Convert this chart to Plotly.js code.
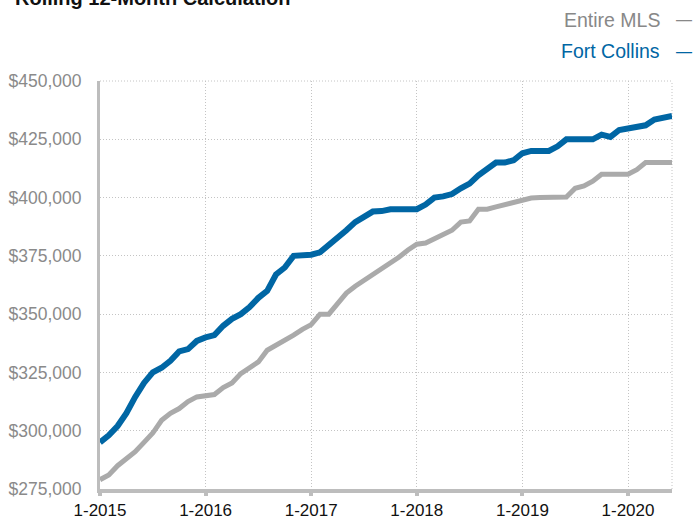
<!DOCTYPE html>
<html>
<head>
<meta charset="utf-8">
<script src="https://cdn.plot.ly/plotly-3.0.1.min.js"></script>
<style>
  html, body { margin: 0; padding: 0; background: #fff; }
  #chart { width: 694px; height: 519px; }
</style>
</head>
<body>
<div id="chart"></div>
<script>
// Month categories (Jan 2015 – Jun 2020)
const months = [
  "1-2015","2-2015","3-2015","4-2015","5-2015","6-2015","7-2015","8-2015","9-2015","10-2015","11-2015","12-2015",
  "1-2016","2-2016","3-2016","4-2016","5-2016","6-2016","7-2016","8-2016","9-2016","10-2016","11-2016","12-2016",
  "1-2017","2-2017","3-2017","4-2017","5-2017","6-2017","7-2017","8-2017","9-2017","10-2017","11-2017","12-2017",
  "1-2018","2-2018","3-2018","4-2018","5-2018","6-2018","7-2018","8-2018","9-2018","10-2018","11-2018","12-2018",
  "1-2019","2-2019","3-2019","4-2019","5-2019","6-2019","7-2019","8-2019","9-2019","10-2019","11-2019","12-2019",
  "1-2020","2-2020","3-2020","4-2020","5-2020","6-2020"
];

// Rolling 12-month values
const entireMLS = [
  279000, 281000, 285000, 288000, 291000, 295000, 299000, 304500, 307500, 309500, 312500, 314500,
  315000, 315500, 318500, 320500, 324500, 327000, 329500, 334500, 336500, 339000, 341000, 343500,
  345500, 350000, 350000, 354500, 359000, 362000, 364500, 367000, 369500, 371500, 374500, 377500,
  380000, 380500, 382500, 384500, 386000, 389500, 390000, 395000, 395000, 396000, 397000, 398000,
  399000, 399800, 400000, 400000, 400000, 400200, 404000, 405000, 407000, 410000, 410000, 410000,
  410000, 412000, 415000, 415000, 415000, 415000
];

const fortCollins = [
  295000, 298000, 302000, 307500, 314500, 320500, 325000, 327000, 330000, 334000, 335000, 338500,
  340000, 341000, 345000, 348000, 350000, 353000, 357000, 360000, 367000, 370000, 375000, 375000,
  375500, 376500, 379500, 383000, 386000, 389500, 392000, 394000, 394200, 395000, 395000, 395000,
  395000, 397000, 400000, 400500, 401500, 404000, 406000, 409500, 412000, 415000, 415000, 416000,
  419000, 420000, 420000, 420000, 422000, 425000, 425000, 425000, 425000, 427000, 426000, 429000,
  429500, 430000, 431000, 433500, 434500, 435000
];

const xTicks = ["1-2015","1-2016","1-2017","1-2018","1-2019","1-2020"];
const yTicks = [275000, 300000, 325000, 350000, 375000, 400000, 425000, 450000];
const yTickText = ["$275,000","$300,000","$325,000","$350,000","$375,000","$400,000","$425,000","$450,000"];

const seriesNames = ["Entire MLS", "Fort Collins"];
const titleText = "Rolling 12-Month Calculation";

const FONT = "Liberation Sans, Arial, Helvetica, sans-serif";
const BLUE = "#0066a4";
const GRAY = "#aaaaaa";
const GRID = "#c4c4c4";

const traces = [
  {
    x: months, y: entireMLS, name: seriesNames[0], type: "scatter", mode: "lines",
    line: { color: GRAY, width: 5 }, hoverinfo: "skip"
  },
  {
    x: months, y: fortCollins, name: seriesNames[1], type: "scatter", mode: "lines",
    line: { color: BLUE, width: 6 }, hoverinfo: "skip"
  }
];

const layout = {
  width: 694, height: 519,
  margin: { l: 100, r: 22, t: 81, b: 30, pad: 0 },
  paper_bgcolor: "#ffffff",
  plot_bgcolor: "#ffffff",
  showlegend: false,
  font: { family: FONT },
  xaxis: {
    type: "category",
    categoryorder: "array", categoryarray: months,
    range: [0, months.length - 1],
    tickvals: xTicks, ticktext: xTicks,
    showgrid: true, gridcolor: GRID, gridwidth: 1, griddash: "1px,2px",
    showline: true, linecolor: "#bdbdbd", linewidth: 4,
    ticks: "outside", ticklen: 3, tickwidth: 4, tickcolor: "#bdbdbd",
    ticklabelstandoff: 0,
    tickfont: { family: FONT, size: 17, color: "#111111" },
    zeroline: false, fixedrange: true, automargin: false
  },
  yaxis: {
    range: [275000, 450000],
    tickvals: yTicks, ticktext: yTickText,
    showgrid: true, gridcolor: GRID, gridwidth: 1, griddash: "1px,2px",
    showline: true, linecolor: "#bdbdbd", linewidth: 3,
    ticks: "", ticklabelstandoff: 12,
    tickfont: { family: FONT, size: 17.5, color: "#8a8a8a" },
    zeroline: false, fixedrange: true, automargin: false
  },
  shapes: [
    { type: "line", xref: "paper", yref: "paper", x0: 1, x1: 1, y0: 0, y1: 1,
      line: { color: GRID, width: 1, dash: "1px,2px" }, layer: "below" },
    { type: "line", xref: "paper", yref: "paper", x0: 0, x1: 1, y0: 1, y1: 1,
      line: { color: GRID, width: 1, dash: "1px,2px" }, layer: "below" }
  ],
  annotations: [
    { text: "<b>" + titleText + "</b>", xref: "paper", yref: "paper",
      x: -0.152, y: 1.203, xanchor: "left", yanchor: "middle", showarrow: false,
      font: { family: FONT, size: 20, color: "#111111" } },
    { text: seriesNames[0], xref: "paper", yref: "paper",
      x: 0.9825, y: 1.1507, xanchor: "right", yanchor: "middle", showarrow: false,
      font: { family: FONT, size: 19.5, color: "#888888" } },
    { text: "—", xref: "paper", yref: "paper",
      x: 1.0205, y: 1.1507, xanchor: "center", yanchor: "middle", showarrow: false,
      font: { family: FONT, size: 16, color: "#888888" } },
    { text: seriesNames[1], xref: "paper", yref: "paper",
      x: 0.9825, y: 1.0735, xanchor: "right", yanchor: "middle", showarrow: false,
      font: { family: FONT, size: 19.5, color: BLUE } },
    { text: "—", xref: "paper", yref: "paper",
      x: 1.0205, y: 1.0735, xanchor: "center", yanchor: "middle", showarrow: false,
      font: { family: FONT, size: 16, color: BLUE } }
  ]
};

Plotly.newPlot("chart", traces, layout, { displayModeBar: false, staticPlot: true });
</script>
</body>
</html>
